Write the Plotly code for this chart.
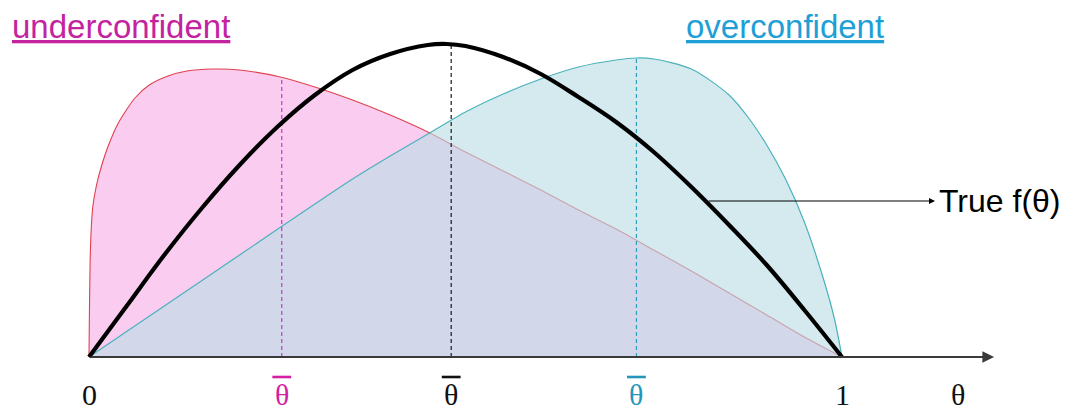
import plotly.graph_objects as go

# ---- data (heights in the chart's own units) ----
under_theta = [0, 0.002, 0.005, 0.01, 0.017, 0.025, 0.039, 0.061, 0.08, 0.105, 0.13, 0.165,
               0.2, 0.254, 0.3, 0.35, 0.4, 0.45, 0.5, 0.55, 0.6, 0.65, 0.7, 0.75, 0.8, 0.85,
               0.9, 0.95, 1.0]
under_f = [0, 110, 150, 172, 192, 210, 234, 259, 272, 281, 286, 288,
           287, 280, 270, 257, 242, 225, 205, 186, 167, 147, 128, 107, 86, 64,
           42, 20, 0]

over_theta = [0, 0.1, 0.2, 0.3, 0.35, 0.4, 0.45, 0.5, 0.55, 0.6, 0.65, 0.7, 0.727, 0.75,
              0.8, 0.85, 0.875, 0.9, 0.925, 0.95, 0.975, 0.99, 1.0]
over_f = [0, 51, 102, 153, 178, 201, 223, 245, 263, 278, 290, 297, 299, 298,
          288, 262, 240, 212, 178, 135, 79, 38, 0]

true_theta = [0, 0.05, 0.1, 0.15, 0.2, 0.25, 0.3, 0.35, 0.4, 0.45, 0.475, 0.5, 0.55, 0.6,
              0.65, 0.7, 0.75, 0.8, 0.85, 0.9, 0.95, 1.0]
true_f = [0, 51, 102, 149, 192, 230, 262, 287, 303, 312, 313, 311, 300, 283,
          260, 235, 205, 170, 132, 92, 47, 0]

mean_theta = [0.256, 0.481, 0.727]
mean_height = [280, 312, 299]
mean_colors = ["#B53CCB", "#1a1a1a", "#2E9FBF"]
mean_label_colors = ["#D41FA3", "#111111", "#2496BC"]

tick_pos = [0, 1]
tick_text = ["0", "1"]
axis_end = 1.202
axis_name_pos = 1.154
true_label_theta = 0.821

# ---- figure ----
fig = go.Figure()

fig.add_trace(go.Scatter(x=under_theta, y=under_f, mode="lines", fill="tozeroy",
                         fillcolor="rgb(250,204,240)",
                         line=dict(color="#E0404E", width=1.1, shape="spline", smoothing=0.7),
                         hoverinfo="skip", showlegend=False))
fig.add_trace(go.Scatter(x=over_theta, y=over_f, mode="lines", fill="tozeroy",
                         fillcolor="rgba(187,222,228,0.63)",
                         line=dict(color="#4AB2BC", width=1.2, shape="spline", smoothing=0.8),
                         hoverinfo="skip", showlegend=False))

for t, h, c in zip(mean_theta, mean_height, mean_colors):
    fig.add_trace(go.Scatter(x=[t, t], y=[0, h], mode="lines",
                             line=dict(color=c, width=1.2, dash="4px,3px"),
                             hoverinfo="skip", showlegend=False))

fig.add_trace(go.Scatter(x=true_theta, y=true_f, mode="lines",
                         line=dict(color="black", width=4.2, shape="spline", smoothing=1.0),
                         hoverinfo="skip", showlegend=False))

annotations = []
shapes = []

annotations.append(dict(x=axis_end, y=0, ax=0, ay=0, xref="x", yref="y", axref="x", ayref="y",
                        text="", showarrow=True, arrowhead=2, arrowsize=1.3, arrowwidth=1.8,
                        arrowcolor="#3a3a3a", standoff=0, startstandoff=0))

serif = "Liberation Serif, DejaVu Serif, serif"
label_y = -54.5
bar_y = -20
for p, s in zip(tick_pos, tick_text):
    annotations.append(dict(x=p, y=label_y, xref="x", yref="y", text=s, showarrow=False,
                            font=dict(family=serif, size=30, color="#111111"),
                            xanchor="center", yanchor="bottom", borderpad=0))
annotations.append(dict(x=axis_name_pos, y=label_y, xref="x", yref="y", text="θ", showarrow=False,
                        font=dict(family=serif, size=30, color="#111111"),
                        xanchor="center", yanchor="bottom", borderpad=0))
for t, c in zip(mean_theta, mean_label_colors):
    annotations.append(dict(x=t, y=label_y, xref="x", yref="y", text="θ", showarrow=False,
                            font=dict(family=serif, size=30, color=c),
                            xanchor="center", yanchor="bottom", borderpad=0))
    shapes.append(dict(type="line", xref="x", yref="y", x0=t - 0.0125, x1=t + 0.0125,
                       y0=bar_y, y1=bar_y, line=dict(color=c, width=2.6)))

annotations.append(dict(x=0.0095, y=0.935, xref="paper", yref="paper", text="<u>underconfident</u>",
                        showarrow=False, xanchor="left", yanchor="middle",
                        font=dict(family="Liberation Sans, Arial, sans-serif", size=33, color="#C4239F")))
annotations.append(dict(x=0.642, y=0.935, xref="paper", yref="paper", text="<u>overconfident</u>",
                        showarrow=False, xanchor="left", yanchor="middle",
                        font=dict(family="Liberation Sans, Arial, sans-serif", size=33, color="#1E9FD6")))

annotations.append(dict(x=1.1235, y=156, ax=true_label_theta, ay=156, xref="x", yref="y",
                        axref="x", ayref="y", text="", showarrow=True, arrowhead=2,
                        arrowsize=1.0, arrowwidth=1.2, arrowcolor="black", standoff=0,
                        startstandoff=0))
annotations.append(dict(x=1.126, y=156, xref="x", yref="y", text="True f(θ)", showarrow=False,
                        xanchor="left", yanchor="middle",
                        font=dict(family="Liberation Sans, Arial, sans-serif", size=32, color="black")))

fig.update_layout(
    width=1065, height=412,
    margin=dict(l=0, r=0, t=0, b=0),
    paper_bgcolor="white", plot_bgcolor="white",
    xaxis=dict(range=[-0.11819, 1.29615], visible=False, fixedrange=True),
    yaxis=dict(range=[-55, 357], visible=False, fixedrange=True),
    annotations=annotations, shapes=shapes,
    showlegend=False,
)

fig.write_html("out.html", config={"displayModeBar": False, "staticPlot": True},
               post_script="document.body.style.margin='0';document.body.style.overflow='hidden';")
